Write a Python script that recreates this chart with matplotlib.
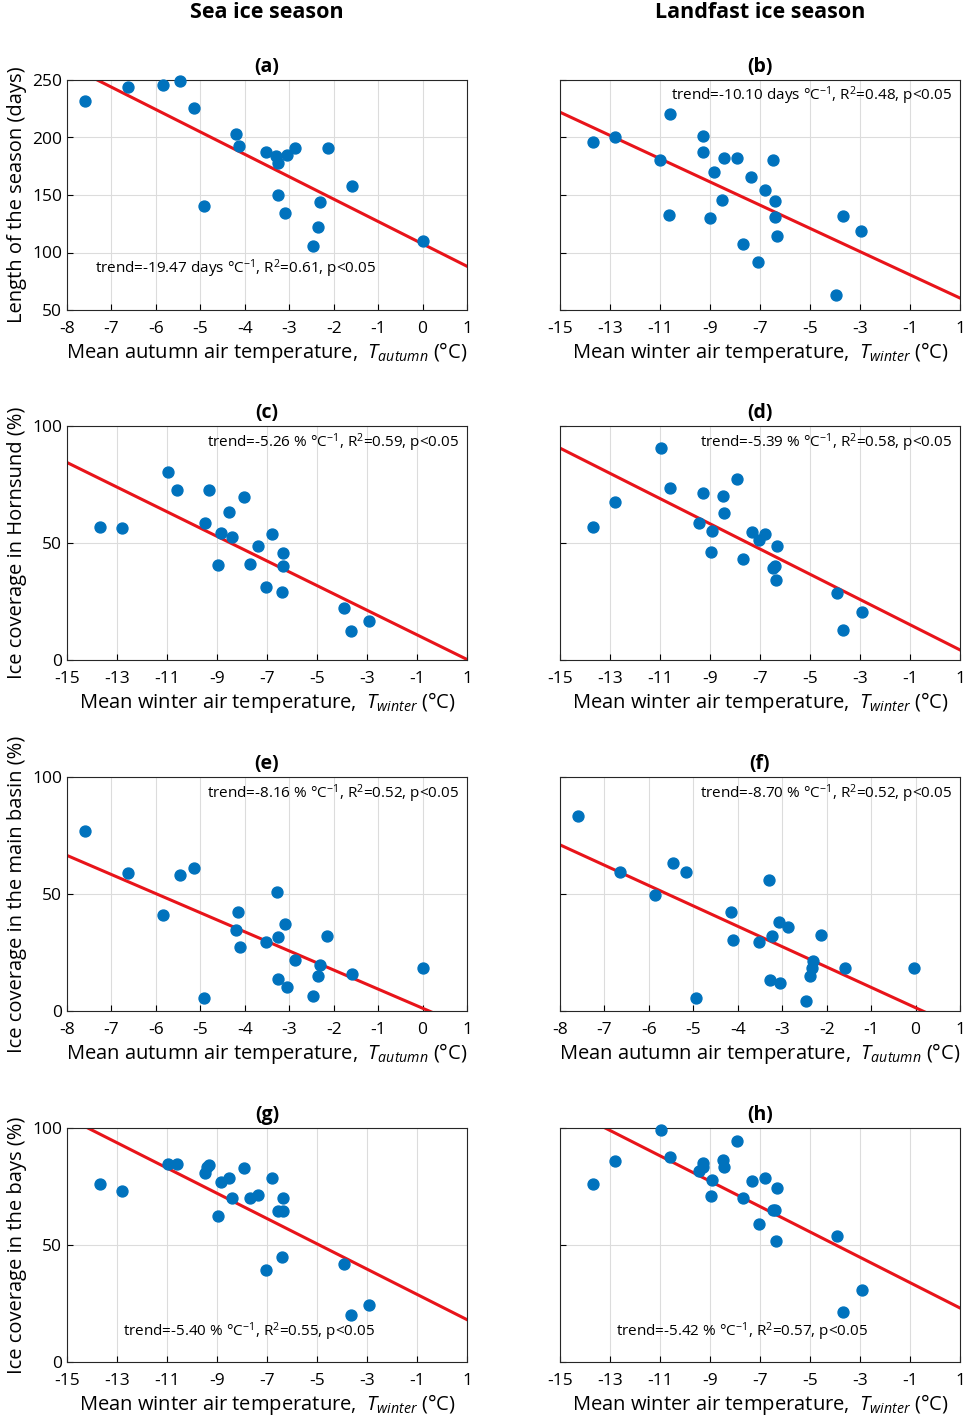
import numpy as np
import matplotlib
matplotlib.use('Agg')
import matplotlib.pyplot as plt

plt.rcParams['font.family'] = ['Open Sans', 'DejaVu Sans']
plt.rcParams['mathtext.fontset'] = 'custom'
plt.rcParams['mathtext.it'] = 'Open Sans:italic'
plt.rcParams['mathtext.rm'] = 'Open Sans'
plt.rcParams['axes.unicode_minus'] = False

# (a) sea ice season length vs autumn temperature
a_x = [-7.6, -6.63, -5.84, -5.46, -5.14, -4.2, -4.13, -4.92, -3.52, -3.3, -3.25, -3.05, -2.87,
       -2.12, -1.58, -3.25, -3.1, -2.3, -2.35, -2.46, 0.02]
a_y = [232, 244, 246, 249, 226, 203, 193, 140, 187, 184, 178, 185, 191,
       191, 158, 150, 134, 144, 122, 106, 110]
# (b) landfast ice season length vs winter temperature
b_x = [-13.68, -12.8, -10.6, -11.0, -9.28, -9.28, -8.84, -8.44, -7.92, -7.36, -6.8, -6.48, -6.4,
       -6.4, -6.32, -10.64, -9.0, -8.52, -7.68, -7.08, -3.68, -2.96, -3.96]
b_y = [196, 200, 220, 180, 187, 201, 170, 182, 182, 166, 154, 180, 145,
       131, 114, 133, 130, 146, 107, 92, 132, 119, 63]
# (c) Hornsund coverage, sea ice, winter temperature
c_x = [-13.68, -12.8, -10.96, -10.6, -9.32, -9.48, -8.84, -8.96, -8.52, -8.4, -7.92, -7.68, -7.36,
       -6.8, -7.04, -6.36, -6.36, -6.4, -3.92, -3.64, -2.92]
c_y = [56.8, 56.4, 80.3, 72.6, 72.6, 58.5, 54.3, 40.6, 63.2, 52.6, 69.7, 41.0, 48.7,
       53.8, 31.2, 40.2, 45.7, 29.0, 22.2, 12.4, 16.7]
# (d) Hornsund coverage, landfast ice, winter temperature
d_x = [-13.68, -12.8, -10.96, -10.6, -9.28, -9.44, -8.92, -8.96, -8.48, -8.44, -7.92, -7.68, -7.32,
       -7.04, -6.8, -6.4, -6.32, -6.36, -6.48, -3.92, -3.68, -2.92]
d_y = [56.8, 67.5, 90.6, 73.5, 71.4, 58.5, 55.1, 46.2, 70.1, 62.8, 77.4, 43.2, 54.7,
       51.3, 53.8, 40.2, 48.7, 34.2, 39.3, 28.6, 12.8, 20.5]
# (e) main basin, sea ice, autumn temperature
e_x = [-7.6, -6.63, -5.84, -5.46, -5.14, -4.92, -4.15, -4.2, -4.11, -3.52, -3.27, -3.25, -3.1,
       -3.25, -3.05, -2.87, -2.3, -2.35, -2.46, -2.14, -1.58, 0.0]
e_y = [76.9, 59.0, 41.0, 58.1, 61.1, 5.6, 42.3, 34.6, 27.4, 29.5, 50.9, 31.6, 37.2,
       13.7, 10.3, 21.8, 19.7, 15.0, 6.4, 32.0, 15.8, 18.4]
# (f) main basin, landfast ice, autumn temperature
f_x = [-7.6, -6.65, -5.86, -5.46, -5.16, -4.94, -4.15, -4.11, -3.52, -3.29, -3.24, -3.08, -3.28,
       -3.05, -2.87, -2.3, -2.33, -2.38, -2.46, -2.12, -1.58, -0.03]
f_y = [83.3, 59.4, 49.6, 63.2, 59.4, 5.6, 42.3, 30.3, 29.5, 56.0, 32.0, 38.0, 13.2,
       12.0, 35.9, 21.4, 18.4, 15.0, 4.3, 32.5, 18.4, 18.4]
# (g) bays, sea ice, winter temperature
g_x = [-13.68, -12.8, -10.96, -10.6, -9.32, -9.48, -9.4, -8.84, -8.96, -8.52, -8.4, -7.92, -7.68,
       -7.36, -6.8, -7.04, -6.36, -6.36, -6.56, -6.4, -3.92, -3.64, -2.92]
g_y = [76.0, 73.0, 84.6, 84.6, 84.2, 80.8, 83.3, 76.9, 62.4, 78.6, 70.1, 82.9, 70.1,
       71.4, 78.6, 39.3, 70.1, 64.5, 64.5, 44.9, 41.9, 20.1, 24.4]
# (h) bays, landfast ice, winter temperature
h_x = [-13.68, -12.8, -10.96, -10.6, -9.28, -9.44, -9.28, -8.92, -8.96, -8.48, -8.44, -7.92, -7.68,
       -7.32, -7.04, -6.8, -6.4, -6.32, -6.36, -6.48, -3.92, -3.68, -2.92]
h_y = [76.0, 85.9, 99.1, 87.6, 85.0, 81.6, 83.3, 77.8, 70.9, 86.3, 83.3, 94.4, 70.1,
       77.4, 59.0, 78.6, 64.9, 74.4, 51.7, 64.9, 53.8, 21.4, 30.8]

# regression: slope, intercept, and x start of the drawn line
slopes = [-19.47, -10.10, -5.26, -5.39, -8.16, -8.70, -5.40, -5.42]
intercepts = [107.5, 70.5, 5.5, 9.7, 1.2, 1.4, 23.5, 28.5]
line_start = [-7.6, -15, -15, -15, -8, -8, -15, -15]
annots = [r'trend=-19.47 days °C$^{-1}$, R$^2$=0.61, p<0.05',
          r'trend=-10.10 days °C$^{-1}$, R$^2$=0.48, p<0.05',
          r'trend=-5.26 % °C$^{-1}$, R$^2$=0.59, p<0.05',
          r'trend=-5.39 % °C$^{-1}$, R$^2$=0.58, p<0.05',
          r'trend=-8.16 % °C$^{-1}$, R$^2$=0.52, p<0.05',
          r'trend=-8.70 % °C$^{-1}$, R$^2$=0.52, p<0.05',
          r'trend=-5.40 % °C$^{-1}$, R$^2$=0.55, p<0.05',
          r'trend=-5.42 % °C$^{-1}$, R$^2$=0.57, p<0.05']
annot_pos = [(0.07, 0.18, 'left'), (0.98, 0.93, 'right'), (0.98, 0.93, 'right'), (0.98, 0.93, 'right'),
             (0.98, 0.93, 'right'), (0.98, 0.93, 'right'), (0.14, 0.13, 'left'), (0.14, 0.13, 'left')]
letters = ['(a)', '(b)', '(c)', '(d)', '(e)', '(f)', '(g)', '(h)']
ylabels = ['Length of the season (days)', 'Ice coverage in Hornsund (%)',
           'Ice coverage in the main basin (%)', 'Ice coverage in the bays (%)']
xl_autumn = r'Mean autumn air temperature,  $T_{autumn}$ (°C)'
xl_winter = r'Mean winter air temperature,  $T_{winter}$ (°C)'

data = [(a_x, a_y), (b_x, b_y), (c_x, c_y), (d_x, d_y), (e_x, e_y), (f_x, f_y), (g_x, g_y), (h_x, h_y)]
autumn = [True, False, False, False, True, True, False, False]

fig = plt.figure(figsize=(9.76, 14.28), dpi=100)
lefts = [67 / 976, 560 / 976]
tops = [80, 426, 777, 1128]
W = 400 / 976

for i, (xs, ys) in enumerate(data):
    row, col = divmod(i, 2)
    hp = 230 if row == 0 else 234
    bottom = 1 - (tops[row] + hp) / 1428
    ax = fig.add_axes([lefts[col], bottom, W, hp / 1428])
    if autumn[i]:
        xlim = (-8, 1)
        xt = np.arange(-8, 2, 1)
        ax.set_xlabel(xl_autumn, fontsize=14.5, labelpad=2)
    else:
        xlim = (-15, 1)
        xt = np.arange(-15, 2, 2)
        ax.set_xlabel(xl_winter, fontsize=14.5, labelpad=2)
    if row == 0:
        ylim = (50, 250)
        yt = np.arange(50, 251, 50)
    else:
        ylim = (0, 100)
        yt = [0, 50, 100]
    ax.set_xlim(*xlim)
    ax.set_ylim(*ylim)
    ax.set_xticks(xt)
    ax.set_yticks(yt)
    ax.grid(True, color='#dcdcdc', linewidth=0.8)
    ax.set_axisbelow(True)
    ax.tick_params(labelsize=12.5, direction='in', length=4)
    ax.tick_params(axis='x', pad=8)
    if col == 1:
        ax.set_yticklabels([])
    else:
        ax.set_ylabel(ylabels[row], fontsize=14.5)
    ax.scatter(xs, ys, s=62, color='#0072BD', zorder=3, clip_on=False)
    lx = np.array([line_start[i], xlim[1]], dtype=float)
    ly = slopes[i] * lx + intercepts[i]
    ax.plot(lx, ly, color='#e8141a', linewidth=2.2, zorder=2)
    tx, ty, ha = annot_pos[i]
    ax.text(tx, ty, annots[i], transform=ax.transAxes, ha=ha, va='center', fontsize=11)
    ax.set_title(letters[i], fontsize=14, fontweight='bold', pad=6)
    for s in ax.spines.values():
        s.set_color('#262626')
        s.set_linewidth(0.8)

fig.text(lefts[0] + W / 2, 1 - 12 / 1428, 'Sea ice season', ha='center', va='center',
         fontsize=15.5, fontweight='bold')
fig.text(lefts[1] + W / 2, 1 - 12 / 1428, 'Landfast ice season', ha='center', va='center',
         fontsize=15.5, fontweight='bold')

fig.savefig('out.png', dpi=100, facecolor='white')
